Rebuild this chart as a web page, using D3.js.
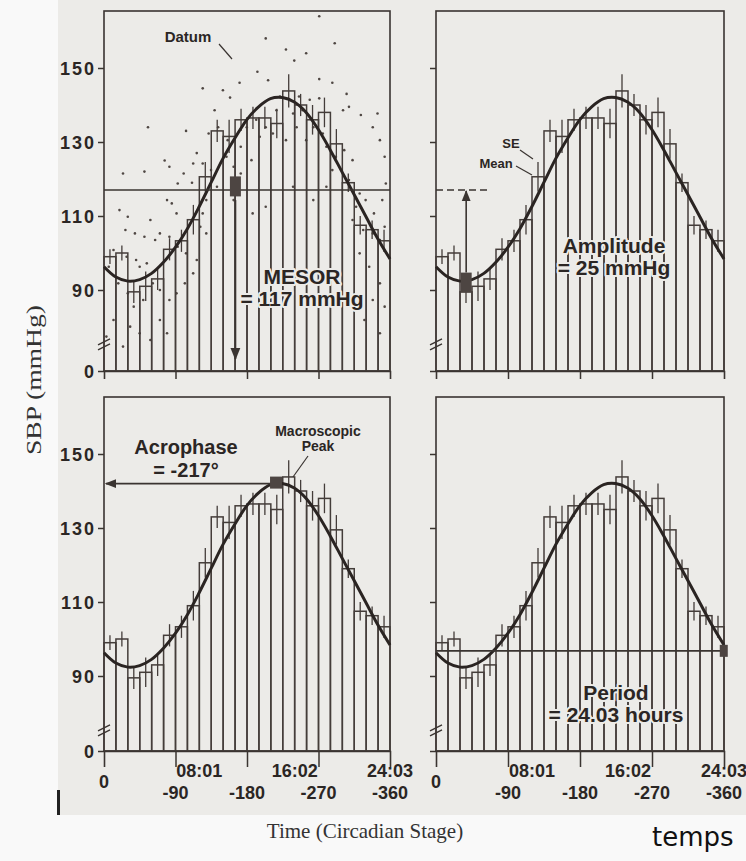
<!DOCTYPE html>
<html>
<head>
<meta charset="utf-8">
<script src="https://cdn.jsdelivr.net/npm/d3@7"></script>
<style>
  body { margin: 0; background: #f9f9f9; }
  svg { display: block; }
  .tick text { font-family: "Liberation Sans", Arial, sans-serif; font-weight: bold; fill: #2b2624; }
  .note { font-family: "Liberation Sans", Arial, sans-serif; font-weight: bold; fill: #2b2624;
          stroke: #ecebe8; stroke-width: 4; paint-order: stroke; stroke-linejoin: round; }
</style>
</head>
<body>
<svg id="chart" width="746" height="861"></svg>
<script>
// hourly means (mmHg) and their standard errors
var barHours = [0, 1, 2, 3, 4, 5, 6, 7, 8, 9, 10, 11, 12, 13, 14, 15, 16, 17, 18, 19, 20, 21, 22, 23];
var barMeans = [99, 100, 89.5, 91, 93, 101, 103.3, 109, 120.6, 133, 131.5, 136, 136.5, 136.5, 135, 143.8,
                140, 136, 138, 129.5, 119, 107.5, 106.3, 103.3];
var barSE = [2, 2, 3, 4, 3, 3, 3, 4, 4, 3, 4.5, 3, 3, 3, 4, 4.5, 3, 4, 4, 4, 2.5, 2.5, 2.5, 3];

// fitted cosine curve as drawn
var curveHours = [0, 1, 2, 3, 4, 5, 6, 7, 8, 9, 10, 11, 12, 13, 14, 15, 16, 17, 18, 19, 20, 21, 22, 23, 24.05];
var curveValues = [96.3, 93.5, 92.4, 92.8, 94.5, 97.5, 101.5, 106.5, 112.5, 119, 125.5, 131, 136, 139.5,
                   141.7, 142, 140.8, 138, 133.5, 128, 122, 116, 110, 104, 98.4];

// single readings ("Datum"), [hour, mmHg]
var datumPoints = [[0.8,100.8],[0.4,96.3],[1.9,99],[2.7,98.1],[3,96.3],[3.6,97.2],[1.2,91.8],[2,89.1],[2.5,85.5],
  [3.3,87.3],[4.1,91.8],[4.7,90],[0.8,81.9],[2.2,80.1],[3,78.3],[3.9,76.5],[4.7,81.9],[1.6,74.7],[5.3,78.3],
  [0.2,77.4],[5.5,87.3],[6.1,89.1],[6.8,91.8],[7.5,94.5],[7.8,98.1],[6.9,99.9],[6.2,101.7],[8.6,105.3],
  [8.1,107.1],[8.3,110.7],[8.6,114.3],[9.5,117.9],[9,122.4],[8.3,124.2],[10.3,126],[10.9,123.3],[11.5,128.7],
  [10.4,130.5],[12,134],[12.8,136],[13.6,134],[14.2,132.3],[13.1,131.4],[14.8,142.3],[15.6,141.4],[16.4,142.3],
  [17.3,141.4],[15.3,130.5],[16.2,134],[17,130.5],[17.6,134],[18.4,132.3],[18.7,128.7],[19.5,126],[20.2,127.8],
  [20.9,125.1],[19.2,122.4],[20.6,119.7],[21.5,116.1],[21.2,112.5],[22,114.3],[22.7,110.7],[23.4,114.3],
  [20.9,108.9],[21.8,106.2],[22.6,105.3],[23.2,103.5],[23.6,107.1],[21.5,99.9],[22.3,96.3],[23.2,91.8],
  [22.6,87.3],[23.6,85.5],[21.9,81.9],[23.2,78.3],[23.7,118.8],[23.6,126],[23.2,130.5],[11.5,121.5],
  [12.4,125.1],[10.9,114.3],[12.5,110.7],[13.6,112.5],[15.9,117.9],[17.6,114.3],[18.7,117.9],[1.6,121.5],
  [3.4,122],[5.1,125],[5.5,123.3],[6.7,121.5],[7.5,124.2],[7.8,127],[7.4,119],[6.2,118.8],[5.7,113.4],
  [5.3,114.3],[6.1,110.7],[1.3,111.6],[2,109.8],[3.9,108.9],[1.8,106.2],[2.6,105.3],[3.4,104.4],[4.7,105.3],
  [5.5,104.4],[4.3,103.5],[3.7,134],[6.9,133],[10.6,142],[9.3,138.6],[9.6,134],[8.8,132.3],[14.5,138.6],
  [15.9,137.7],[16.7,138.6],[20.6,139.5],[21.6,137.3],[22.6,134],[23,137.7],[18.1,141.8],[8.3,144.5],[10,144],
  [12.9,149],[13.8,146.7],[18.1,147],[19.2,146],[20.4,143],[20.1,138.6],[11.4,146],[15.3,155],[16,152],
  [17,154],[13.6,158],[19.4,156.7],[18.1,164]];

// cosinor parameters
var mesor = 117, amplitude = 25, acrophaseDeg = -217, periodHours = 24.03;
var mesorMarkHour = 11.05, troughHour = 2.52, periodLineValue = 96.8;

var yTicks = [0, 90, 110, 130, 150];
var timeTicks = [8.0167, 16.0333, 24.05];
var timeLabels = ["08:01", "16:02", "24:03"];
var phaseTicks = [-90, -180, -270, -360];

var ink = "#3a3431";
var svg = d3.select("#chart");

// scanned page background
svg.append("rect").attr("x", 58).attr("y", 0).attr("width", 688).attr("height", 815).attr("fill", "#ecebe8");
svg.append("rect").attr("x", 57).attr("y", 790).attr("width", 3).attr("height", 25).attr("fill", "#222");

var defs = svg.append("defs");
defs.append("marker").attr("id", "arrow").attr("viewBox", "0 0 10 10").attr("refX", 9).attr("refY", 5)
    .attr("markerWidth", 7).attr("markerHeight", 7).attr("orient", "auto-start-reverse")
  .append("path").attr("d", "M0,1 L10,5 L0,9 Z").attr("fill", ink);

var panels = [
  {key: "mesor", x: 104, y: 11, w: 286, h: 360, labels: true, bottom: false},
  {key: "amplitude", x: 436, y: 11, w: 288, h: 360, labels: false, bottom: false},
  {key: "acrophase", x: 104, y: 397, w: 286, h: 354, labels: true, bottom: true},
  {key: "period", x: 436, y: 397, w: 288, h: 354, labels: false, bottom: true}
];

panels.forEach(function (p) {
  var g = svg.append("g").attr("transform", "translate(" + p.x + "," + p.y + ")");

  var x = d3.scaleBand().domain(barHours).range([0, p.w]).padding(0);
  var t = d3.scaleLinear().domain([0, 24.05]).range([0, p.w]);
  var phase = d3.scaleLinear().domain([0, -360]).range([0, p.w]);
  // axis is broken below 70 mmHg
  var y = d3.scaleLinear().domain([0, 70, 150]).range([p.h, 353, 57]);

  // box
  g.append("rect").attr("width", p.w).attr("height", p.h)
    .attr("fill", "none").attr("stroke", ink).attr("stroke-width", 1.6);

  if (p.key === "mesor") {
    g.append("g").selectAll("circle").data(datumPoints).enter().append("circle")
      .attr("cx", function (d) { return t(d[0]); })
      .attr("cy", function (d) { return y(d[1]); })
      .attr("r", 1.3).attr("fill", "#4f4743");
  }

  // bars
  g.append("g").selectAll("rect").data(barHours).enter().append("rect")
    .attr("x", function (d) { return x(d); })
    .attr("y", function (d, i) { return y(barMeans[i]); })
    .attr("width", x.bandwidth())
    .attr("height", function (d, i) { return y(0) - y(barMeans[i]); })
    .attr("fill", "none").attr("stroke", "#443d3a").attr("stroke-width", 1.5);

  // SE whiskers
  g.append("g").selectAll("line").data(barHours).enter().append("line")
    .attr("x1", function (d) { return x(d) + x.bandwidth() / 2; })
    .attr("x2", function (d) { return x(d) + x.bandwidth() / 2; })
    .attr("y1", function (d, i) { return y(barMeans[i] - barSE[i]); })
    .attr("y2", function (d, i) { return y(barMeans[i] + barSE[i]); })
    .attr("stroke", "#443d3a").attr("stroke-width", 1.3);

  // fitted curve
  var line = d3.line().curve(d3.curveCatmullRom)
    .x(function (d, i) { return t(curveHours[i]); })
    .y(function (d) { return y(d); });
  g.append("path").attr("d", line(curveValues))
    .attr("fill", "none").attr("stroke", "#2a2422").attr("stroke-width", 3);

  // y axis
  var ya = g.append("g").call(d3.axisLeft(y).tickValues(yTicks).tickSize(6).tickPadding(2)
      .tickFormat(p.labels ? d3.format("d") : ""));
  ya.select(".domain").remove();
  ya.selectAll(".tick line").attr("stroke", ink).attr("stroke-width", 1.5);
  ya.selectAll(".tick text").attr("font-size", 18).attr("letter-spacing", 2).attr("dy", "0.36em");
  // axis break
  var by = y(76);
  [0, 5].forEach(function (o) {
    g.append("line").attr("x1", -6).attr("x2", 6).attr("y1", by + 3 + o).attr("y2", by - 3 + o)
      .attr("stroke", ink).attr("stroke-width", 1.4);
  });

  // x axis ticks (phase quarters)
  var xa = g.append("g").attr("transform", "translate(0," + p.h + ")")
    .call(d3.axisBottom(phase).tickValues(phaseTicks.slice(0, 3)).tickSize(p.bottom ? 16 : 8).tickFormat(""));
  xa.select(".domain").attr("stroke", ink).attr("stroke-width", 1.6);
  xa.selectAll(".tick line").attr("stroke", ink).attr("stroke-width", 1.5);

  if (p.bottom) {
    var lab = g.append("g").attr("class", "tick")
      .attr("font-size", 18).attr("text-anchor", "middle");
    lab.selectAll("text.time").data(timeTicks).enter().append("text").attr("class", "time")
      .attr("x", function (d) { return t(d); }).attr("y", p.h + 26)
      .text(function (d, i) { return timeLabels[i]; });
    lab.selectAll("text.phase").data(phaseTicks).enter().append("text").attr("class", "phase")
      .attr("x", function (d) { return phase(d); }).attr("y", p.h + 48)
      .text(function (d) { return d; });
    lab.append("text").attr("x", phase(0)).attr("y", p.h + 37).text("0");
  }

  function note(lines, cx, cy, size, gap) {
    lines.forEach(function (s, i) {
      g.append("text").attr("class", "note").attr("x", cx).attr("y", cy + i * gap)
        .attr("text-anchor", "middle").attr("font-size", size).text(s);
    });
  }
  function leader(x1, y1, x2, y2) {
    g.append("line").attr("x1", x1).attr("y1", y1).attr("x2", x2).attr("y2", y2)
      .attr("stroke", ink).attr("stroke-width", 1.2);
  }

  if (p.key === "mesor") {
    g.append("line").attr("x1", 0).attr("x2", p.w).attr("y1", y(mesor)).attr("y2", y(mesor))
      .attr("stroke", ink).attr("stroke-width", 1.5);
    g.append("line").attr("x1", t(mesorMarkHour)).attr("x2", t(mesorMarkHour))
      .attr("y1", y(mesor) + 10).attr("y2", p.h - 12)
      .attr("stroke", ink).attr("stroke-width", 1.8).attr("marker-end", "url(#arrow)");
    g.append("rect").attr("x", t(mesorMarkHour) - 5.5).attr("y", y(mesor + 1) - 10)
      .attr("width", 11).attr("height", 20).attr("fill", "#4d4542");
    note(["Datum"], 84, 31, 15, 0);
    leader(115, 33, 128, 48);
    note(["MESOR", "= 117 mmHg"], 198, 273, 21, 22);
  }

  if (p.key === "amplitude") {
    g.append("line").attr("x1", 0).attr("x2", t(4.4)).attr("y1", y(mesor)).attr("y2", y(mesor))
      .attr("stroke", ink).attr("stroke-width", 1.5).attr("stroke-dasharray", "7,4");
    g.append("line").attr("x1", t(troughHour)).attr("x2", t(troughHour))
      .attr("y1", y(mesor - amplitude) - 10).attr("y2", y(mesor) + 1)
      .attr("stroke", ink).attr("stroke-width", 1.6).attr("marker-end", "url(#arrow)");
    g.append("rect").attr("x", t(troughHour) - 5.5).attr("y", y(mesor - amplitude) - 10)
      .attr("width", 11).attr("height", 20).attr("fill", "#4d4542");
    note(["SE"], 75, 137, 13, 0);
    note(["Mean"], 60, 157, 13, 0);
    leader(84, 139, 97, 148);
    leader(80, 155, 96, 164);
    note(["Amplitude", "= 25 mmHg"], 178, 242, 21, 22);
  }

  if (p.key === "acrophase") {
    var peakHour = -acrophaseDeg / 360 * 24;
    g.append("line").attr("x1", t(peakHour) - 5).attr("x2", 2).attr("y1", y(mesor + amplitude)).attr("y2", y(mesor + amplitude))
      .attr("stroke", ink).attr("stroke-width", 1.6).attr("marker-end", "url(#arrow)");
    g.append("rect").attr("x", t(peakHour) - 6).attr("y", y(mesor + amplitude) - 7)
      .attr("width", 12).attr("height", 12).attr("fill", "#4d4542");
    note(["Acrophase", "= -217\u00b0"], 82, 57, 20, 23);
    note(["Macroscopic", "Peak"], 214, 39, 14, 15);
    leader(204, 59, 189, 80);
  }

  if (p.key === "period") {
    g.append("line").attr("x1", 0).attr("x2", t(periodHours)).attr("y1", y(periodLineValue)).attr("y2", y(periodLineValue))
      .attr("stroke", ink).attr("stroke-width", 1.6);
    g.append("rect").attr("x", t(periodHours) - 4).attr("y", y(periodLineValue) - 6)
      .attr("width", 8).attr("height", 12).attr("fill", "#4d4542");
    note(["Period", "= 24.03 hours"], 180, 303, 21, 22);
  }
});

// axis titles
svg.append("text").attr("transform", "translate(41,380) rotate(-90)")
  .attr("text-anchor", "middle").attr("font-family", "'Liberation Serif', 'DejaVu Serif', serif")
  .attr("font-size", 20).attr("textLength", 150).attr("lengthAdjust", "spacingAndGlyphs")
  .attr("fill", "#333").text("SBP (mmHg)");
svg.append("text").attr("x", 365).attr("y", 838).attr("text-anchor", "middle")
  .attr("font-family", "'Liberation Serif', 'DejaVu Serif', serif")
  .attr("font-size", 21).attr("fill", "#333").text("Time (Circadian Stage)");
svg.append("text").attr("x", 652).attr("y", 846)
  .attr("font-family", "'DejaVu Sans', sans-serif").attr("font-size", 26).attr("fill", "#111").text("temps");
</script>
</body>
</html>
